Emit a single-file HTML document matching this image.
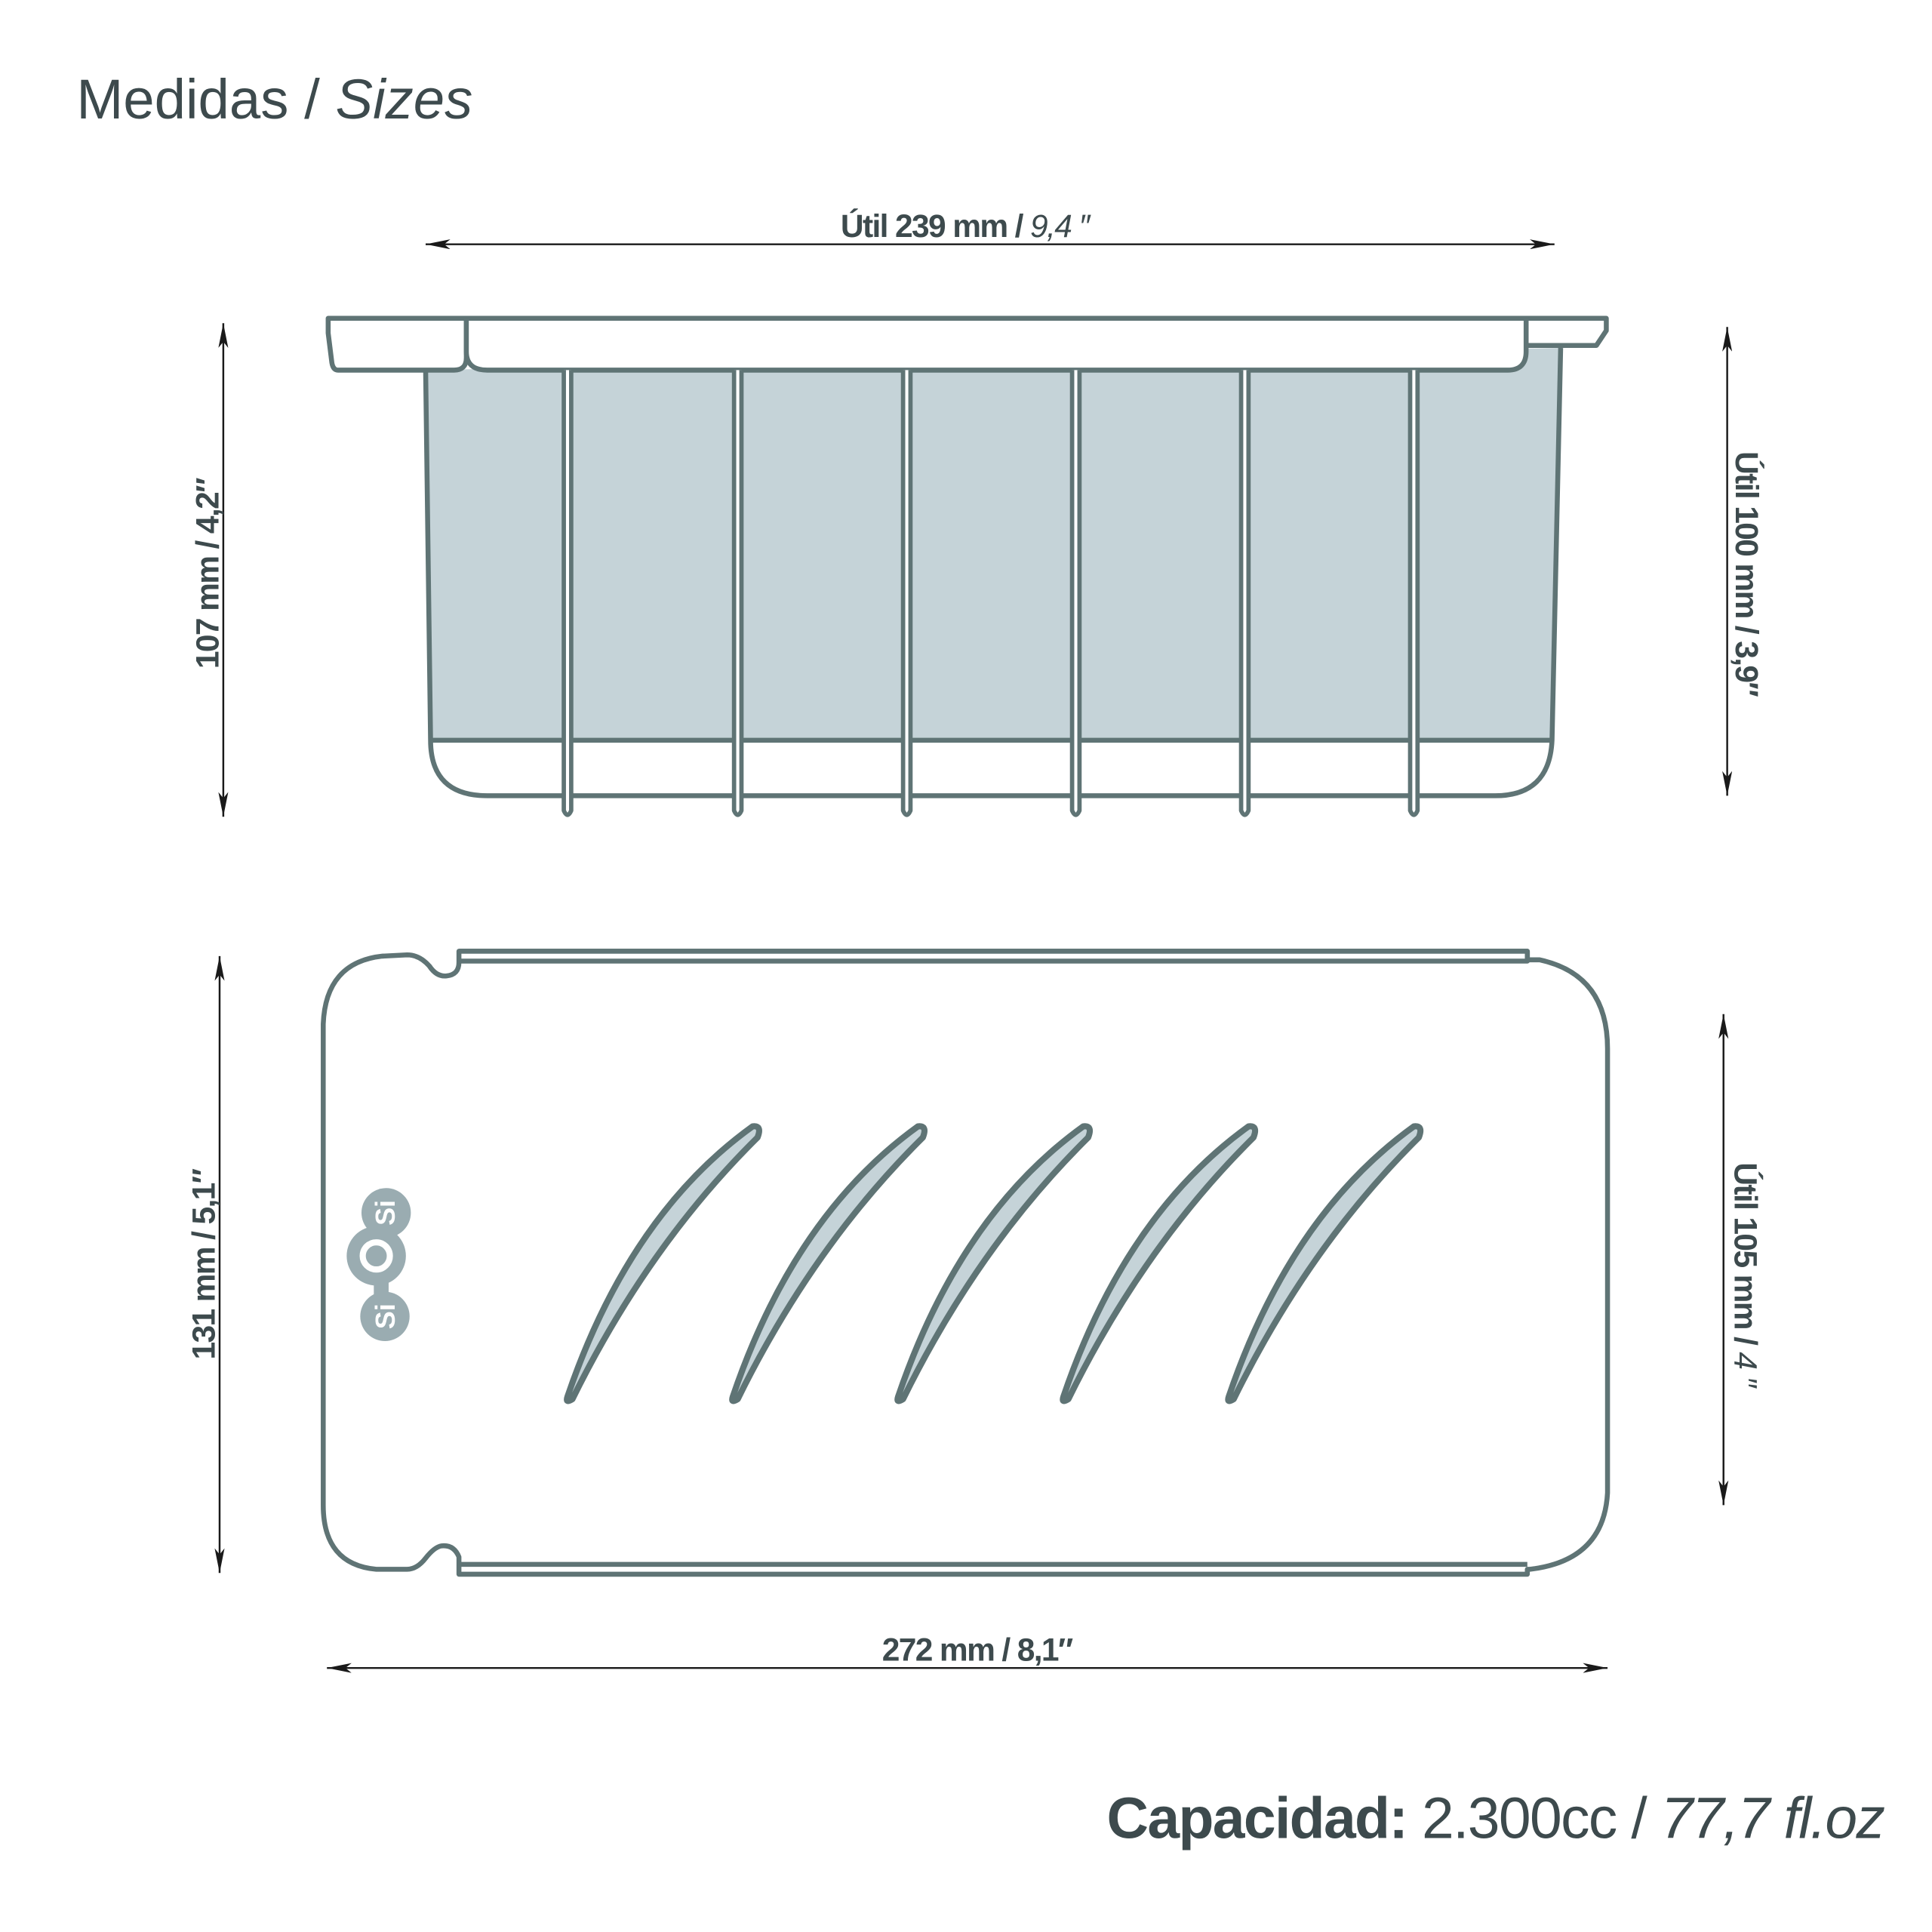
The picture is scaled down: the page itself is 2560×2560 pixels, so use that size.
<!DOCTYPE html>
<html><head><meta charset="utf-8"><style>html,body{margin:0;padding:0;background:#fff}svg{display:block}</style></head>
<body>
<svg width="2560" height="2560" viewBox="0 0 1566 1566" xmlns="http://www.w3.org/2000/svg" font-family="Liberation Sans, sans-serif">
<defs>
<marker id="a" viewBox="0 0 20 8" refX="20" refY="4" markerWidth="20" markerHeight="8" markerUnits="userSpaceOnUse" orient="auto-start-reverse"><path d="M0,0 L20,4 L0,8 L5,4z" fill="#1a1a1a"/></marker>
</defs>
<text x="62" y="96" font-size="45.5" fill="#3d4a4d" letter-spacing="0">Medidas / <tspan font-style="italic">Sizes</tspan></text>

<g stroke="#1a1a1a" stroke-width="1.5" fill="none">
<line x1="345" y1="198" x2="1260" y2="198" marker-start="url(#a)" marker-end="url(#a)"/>
<line x1="181" y1="262" x2="181" y2="662" marker-start="url(#a)" marker-end="url(#a)"/>
<line x1="1400" y1="265" x2="1400" y2="645" marker-start="url(#a)" marker-end="url(#a)"/>
<line x1="178" y1="775" x2="178" y2="1275" marker-start="url(#a)" marker-end="url(#a)"/>
<line x1="1397" y1="822" x2="1397" y2="1220" marker-start="url(#a)" marker-end="url(#a)"/>
<line x1="265" y1="1352" x2="1303" y2="1352" marker-start="url(#a)" marker-end="url(#a)"/>
</g>
<g font-size="26" font-weight="bold" fill="#3d4a4d" text-anchor="middle" letter-spacing="-1">
<text x="782" y="192">Útil 239 mm / <tspan font-style="italic" font-weight="normal">9,4 ″</tspan></text>
<text transform="translate(177,465) rotate(-90)">107 mm / 4,2″</text>
<text transform="translate(1407,465) rotate(90)">Útil 100 mm / 3,9″</text>
<text transform="translate(174,1025) rotate(-90)">131 mm / 5,1″</text>
<text transform="translate(1406,1033) rotate(90)">Útil 105 mm / <tspan font-style="italic" font-weight="normal">4 ″</tspan></text>
<text x="792" y="1346">272 mm / 8,1″</text>
</g>

<g stroke="#5f7475" stroke-width="4" stroke-linejoin="round">
<path d="M345,300 L1265,282 L1258,600 L349,600 Z" fill="#c5d3d8" stroke="none"/>
<path d="M345,300 L349,600 Q349,645 395,645 L1212,645 Q1256,645 1258,600 L1265,282" fill="none"/>
<line x1="349" y1="600" x2="1258" y2="600"/>
<path d="M266,258 L1302,258 L1302,268 L1294,280 L1237,280 L1237,258" fill="#fff"/>
<path d="M266,258 L378,258 L378,290 Q378,300 368,300 L274,300 Q270,300 269,294 L266,270 Z" fill="#fff"/>
<path d="M378,258 L1237,258 L1237,285 Q1237,300 1222,300 L395,300 Q378,300 378,285 Z" fill="#fff"/>
</g>
<g stroke="#5f7475" stroke-width="3.5" fill="#fff" stroke-linejoin="round">
<path d="M457,300 L457,657 Q460,664 463,657 L463,300" />
<path d="M595,300 L595,657 Q598,664 601,657 L601,300" />
<path d="M732,300 L732,657 Q735,664 738,657 L738,300" />
<path d="M869,300 L869,657 Q872,664 875,657 L875,300" />
<path d="M1006,300 L1006,657 Q1009,664 1012,657 L1012,300" />
<path d="M1143,300 L1143,657 Q1146,664 1149,657 L1149,300" />
</g>

<g stroke="#5f7475" stroke-width="4" fill="#fff" stroke-linejoin="round">
<path d="M372,771 L1238,771 L1238,778 L1248,778 Q1303,790 1303,850 L1303,1210 Q1300,1265 1240,1272 L1238,1272 L1238,1276 L372,1276 L372,1262 Q368,1252 358,1253 Q352,1254 345,1263 Q338,1272 330,1272 L305,1272 Q262,1268 262,1220 L262,830 Q264,780 310,775 L330,774 Q340,774 348,783 Q354,792 362,791 Q372,790 372,780 Z"/>
<path d="M372,771 L1238,771 L1238,779 L372,779 M372,1268 L1238,1268" fill="none"/>
</g>
<g stroke="#5f7475" stroke-width="5" fill="#c5d3d8" stroke-linejoin="round">
<path id="b" d="M460,1132 Q510,985 610,913 Q618,912 614,922 Q525,1010 464,1134 Q458,1138 460,1132 Z"/>
<use href="#b" x="134"/>
<use href="#b" x="268"/>
<use href="#b" x="402"/>
<use href="#b" x="536"/>
</g>
<g fill="#9aacb1">
<circle cx="313" cy="983" r="20"/><circle cx="305" cy="1018" r="24"/><circle cx="312" cy="1067" r="20"/>
<rect x="303" y="990" width="12" height="75"/>
</g>
<circle cx="305" cy="1018" r="11" fill="none" stroke="#fff" stroke-width="5"/>
<g fill="#fff" font-size="22" font-weight="bold" text-anchor="middle">
<text transform="translate(320,983) rotate(-90)">Si</text>
<text transform="translate(320,1067) rotate(-90)">Si</text>
</g>

<text x="1527" y="1490" font-size="47" fill="#3d4a4d" text-anchor="end" letter-spacing="-1"><tspan font-weight="bold">Capacidad:</tspan> 2.300cc / <tspan font-style="italic">77,7 fl.oz</tspan></text>
</svg>
</body></html>
